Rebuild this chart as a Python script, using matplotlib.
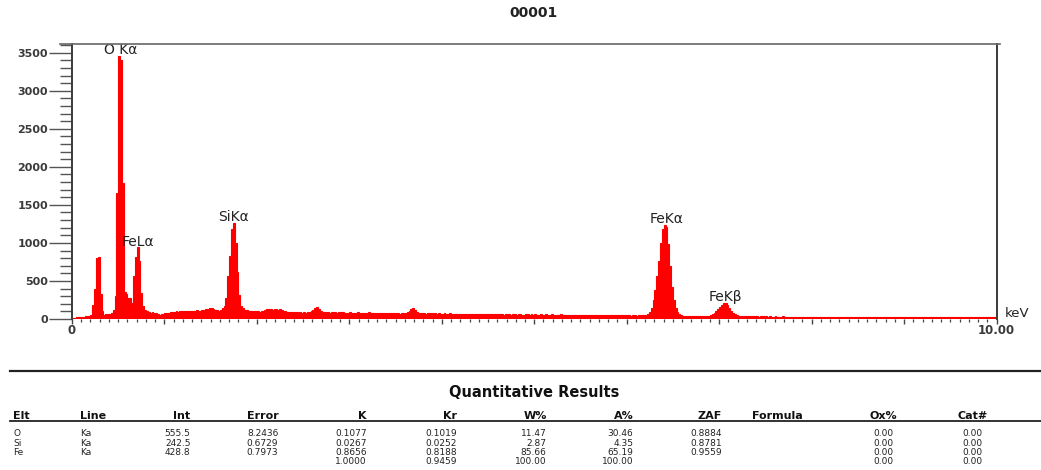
import numpy as np
import matplotlib
matplotlib.use('Agg')
import matplotlib.pyplot as plt
from matplotlib.lines import Line2D
from matplotlib.ticker import FixedLocator, FixedFormatter, MultipleLocator, NullFormatter

# ---------------- data ----------------
channel_width_kev = 0.02
# counts per 0.02 keV channel, each row covers 0.5 keV (0.00 .. 10.00 keV)
counts_rows = [
    [10, 15, 20, 25, 28, 30, 32, 38, 40, 45, 55, 190, 400, 800, 820, 330, 110, 55, 60, 60, 65, 75, 120, 300, 1650],
    [3460, 3400, 1790, 350, 330, 280, 270, 210, 560, 820, 940, 760, 340, 170, 120, 100, 90, 85, 90, 80, 75, 70, 55, 60, 70],
    [75, 80, 85, 90, 95, 95, 100, 95, 100, 105, 100, 105, 110, 105, 100, 105, 110, 115, 110, 105, 115, 120, 125, 130, 140],
    [150, 130, 120, 115, 110, 120, 140, 170, 280, 560, 830, 1180, 1265, 1000, 620, 320, 170, 140, 120, 115, 110, 105, 110, 105, 100],
    [100, 95, 105, 110, 120, 125, 130, 125, 120, 125, 130, 120, 125, 115, 110, 105, 95, 90, 95, 90, 95, 90, 85, 90, 85],
    [90, 85, 95, 90, 100, 120, 150, 155, 130, 100, 95, 90, 90, 95, 85, 90, 95, 90, 85, 90, 95, 90, 85, 80, 85],
    [90, 85, 80, 85, 90, 85, 80, 85, 80, 85, 90, 80, 85, 80, 75, 80, 85, 80, 75, 80, 85, 80, 75, 80, 75],
    [80, 75, 70, 75, 80, 80, 90, 110, 135, 140, 120, 95, 80, 75, 80, 75, 70, 75, 80, 75, 70, 75, 70, 75, 72],
    [70, 75, 65, 70, 75, 68, 65, 70, 72, 65, 68, 70, 65, 62, 68, 70, 65, 60, 65, 68, 62, 65, 60, 65, 68],
    [62, 65, 60, 63, 66, 60, 62, 65, 58, 62, 60, 64, 58, 60, 62, 58, 60, 63, 58, 55, 60, 62, 57, 60, 58],
    [60, 56, 58, 62, 55, 58, 60, 55, 57, 60, 54, 56, 58, 55, 60, 52, 55, 58, 54, 56, 52, 55, 58, 53, 55],
    [52, 55, 50, 54, 56, 50, 52, 55, 50, 53, 55, 50, 48, 52, 55, 50, 48, 52, 50, 47, 50, 52, 48, 50, 47],
    [50, 48, 45, 50, 47, 45, 48, 50, 46, 50, 55, 65, 90, 150, 250, 380, 560, 760, 1000, 1180, 1235, 1210, 980, 700, 420],
    [250, 140, 90, 60, 50, 45, 42, 45, 40, 42, 40, 38, 42, 40, 38, 40, 38, 40, 42, 45, 50, 60, 75, 100, 130],
    [160, 190, 210, 214, 190, 150, 110, 80, 60, 48, 42, 38, 36, 38, 35, 36, 34, 35, 33, 35, 34, 32, 34, 33, 32],
    [33, 31, 34, 32, 30, 33, 31, 32, 30, 33, 31, 30, 32, 30, 31, 29, 32, 30, 29, 31, 30, 28, 31, 29, 30],
    [29, 31, 28, 30, 29, 32, 28, 29, 30, 27, 29, 31, 28, 27, 30, 28, 29, 27, 28, 30, 27, 28, 29, 27, 28],
    [27, 29, 28, 26, 28, 27, 29, 26, 28, 27, 26, 28, 27, 25, 28, 26, 27, 25, 27, 28, 26, 25, 27, 26, 25],
    [26, 27, 25, 26, 28, 25, 26, 24, 27, 25, 26, 24, 25, 27, 24, 25, 26, 24, 25, 23, 26, 24, 25, 23, 24],
    [25, 23, 24, 26, 23, 24, 22, 25, 23, 24, 22, 23, 25, 22, 24, 23, 22, 24, 23, 21, 23, 22, 24, 22, 21],
]

peak_labels = ['O K\u03b1', 'FeL\u03b1', 'SiK\u03b1', 'FeK\u03b1', 'FeK\u03b2']
peak_energy = [0.53, 0.715, 1.75, 6.43, 7.07]

title = '00001'
x_tick_values = [0, 1, 2, 3, 4, 5, 6, 7, 8, 9, 10]
x_tick_labels = ['0', '', '', '', '', '', '', '', '', '', '10.00']
x_unit = 'keV'

table_title = 'Quantitative Results'
col_names = ['Elt', 'Line', 'Int', 'Error', 'K', 'Kr', 'W%', 'A%', 'ZAF', 'Formula', 'Ox%', 'Cat#']
col_elt = ['O', 'Si', 'Fe', '']
col_line = ['Ka', 'Ka', 'Ka', '']
col_int = ['555.5', '242.5', '428.8', '']
col_error = ['8.2436', '0.6729', '0.7973', '']
col_k = ['0.1077', '0.0267', '0.8656', '1.0000']
col_kr = ['0.1019', '0.0252', '0.8188', '0.9459']
col_w = ['11.47', '2.87', '85.66', '100.00']
col_a = ['30.46', '4.35', '65.19', '100.00']
col_zaf = ['0.8884', '0.8781', '0.9559', '']
col_formula = ['', '', '', '']
col_ox = ['0.00', '0.00', '0.00', '0.00']
col_cat = ['0.00', '0.00', '0.00', '0.00']

# ---------------- figure ----------------
W, H = 1041, 470
plt.rcParams['font.family'] = ['DejaVu Sans']
fig = plt.figure(figsize=(W / 100, H / 100), dpi=100)


def fx(x):
    return x / W


def fy(y):
    return 1 - y / H


counts = np.concatenate([np.asarray(r, dtype=float) for r in counts_rows])
edges = np.arange(len(counts) + 1) * channel_width_kev

ax = fig.add_axes([fx(72), fy(319), fx(996.5) - fx(72), (319 - 44) / H])
ax.stairs(counts, edges, fill=True, facecolor='#ff0000', edgecolor='#ff0000',
          linewidth=0.8)
ax.set_xlim(0, 10)
ax.set_ylim(0, 3614)

for s in ['top', 'bottom']:
    ax.spines[s].set_visible(False)
for s in ['left', 'right']:
    ax.spines[s].set_color('#3a3a3a')
    ax.spines[s].set_linewidth(1.4)

ax.yaxis.set_major_locator(MultipleLocator(500))
ax.yaxis.set_minor_locator(MultipleLocator(100))
ax.tick_params(axis='y', which='major', direction='out', length=16.5, width=1.0,
               color='#555555', pad=0.6, labelsize=8, labelcolor='#3a3a3a')
ax.tick_params(axis='y', which='minor', direction='out', length=8.6, width=1.0,
               color='#555555')
for t in ax.get_yticklabels():
    t.set_fontweight('bold')

ax.xaxis.set_major_locator(FixedLocator(x_tick_values))
ax.xaxis.set_major_formatter(FixedFormatter(x_tick_labels))
ax.xaxis.set_minor_locator(MultipleLocator(0.1))
ax.xaxis.set_minor_formatter(NullFormatter())
ax.tick_params(axis='x', which='major', direction='out', length=3.4, width=1.0,
               color='#444444', pad=0.3, labelsize=8.5, labelcolor='#3a3a3a')
ax.tick_params(axis='x', which='minor', direction='out', length=2.0, width=0.9,
               color='#444444')
for t in ax.get_xticklabels():
    t.set_fontweight('bold')

# peak labels
for lab, e in zip(peak_labels, peak_energy):
    m = (edges[:-1] >= e - 0.06) & (edges[:-1] <= e + 0.06)
    top = counts[m].max()
    ax.annotate(lab, xy=(e, top), xytext=(0, 1.2), textcoords='offset points',
                ha='center', va='baseline', fontsize=10, color='#222222')

# frame top line
fig.add_artist(Line2D([fx(60), fx(1000)], [fy(44), fy(44)], color='#666666', lw=1.2))

fig.text(fx(1005), fy(316.7), x_unit, ha='left', va='baseline', fontsize=9.5, color='#222222')
fig.text(fx(533.5), fy(16.7), title, ha='center', va='baseline', fontsize=10,
         fontweight='bold', color='#222222')

# ---------------- table ----------------
fig.add_artist(Line2D([fx(10), fx(1041)], [fy(371), fy(371)], color='#222222', lw=1.6))
fig.add_artist(Line2D([fx(10), fx(1041)], [fy(420.8), fy(420.8)], color='#222222', lw=1.3))
fig.text(fx(534), fy(397.3), table_title, ha='center', va='baseline', fontsize=10.5,
         fontweight='bold', color='#111111')

columns = [col_elt, col_line, col_int, col_error, col_k, col_kr, col_w, col_a,
           col_zaf, col_formula, col_ox, col_cat]
col_x = [13, 80, 190.5, 278.3, 366.5, 456.5, 546.7, 633.3, 721.7, 752, 883.3, 972.5]
col_ha = ['left', 'left', 'right', 'right', 'right', 'right', 'right', 'right',
          'right', 'left', 'center', 'center']
header_y = 419.0
row_y = [436.0, 445.6, 455.0, 464.4]

for name, vals, x, ha in zip(col_names, columns, col_x, col_ha):
    fig.text(fx(x), fy(header_y), name, ha=ha, va='baseline', fontsize=8,
             fontweight='bold', color='#111111')
    for v, y in zip(vals, row_y):
        if v:
            fig.text(fx(x), fy(y), v, ha=ha, va='baseline', fontsize=6.5, color='#222222')

fig.savefig('out.png', dpi=100)
